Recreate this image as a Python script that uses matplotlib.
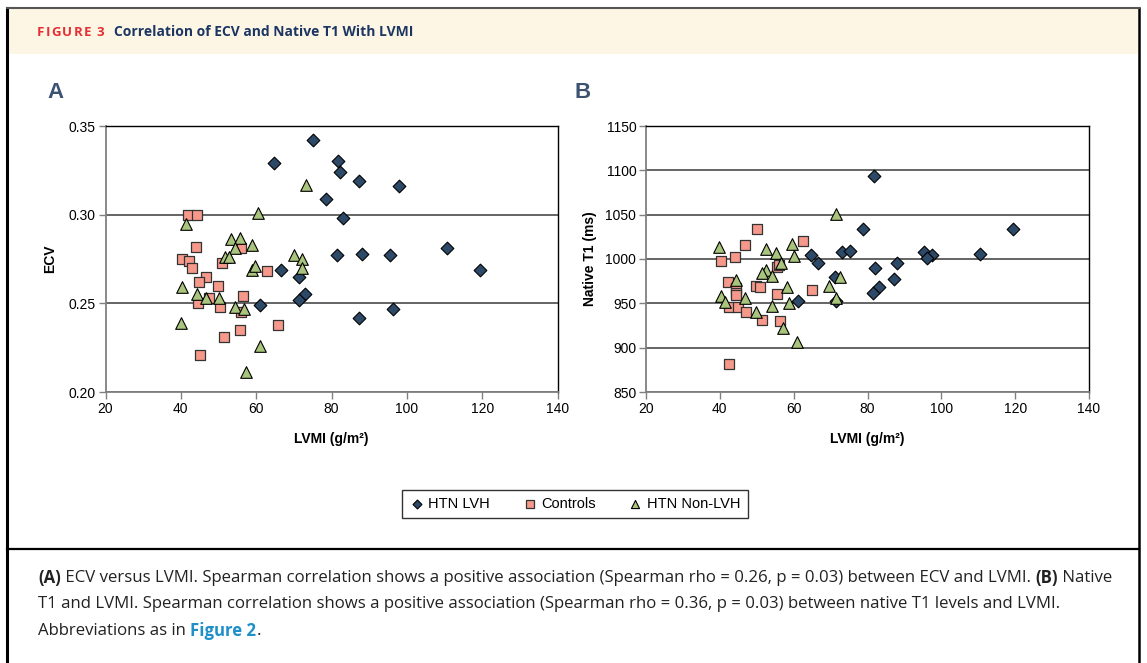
import matplotlib
matplotlib.use("Agg")
import matplotlib.pyplot as plt
from matplotlib.lines import Line2D
from matplotlib.patches import Rectangle

plt.rcParams['font.family'] = ['Liberation Sans', 'DejaVu Sans']

# panel A: ECV vs LVMI
a_lvh_x = [75.2, 64.7, 81.8, 82.2, 87.3, 97.8, 78.6, 83.1, 81.4, 88.2,
           95.4, 110.7, 119.5, 66.6, 71.3, 72.9, 71.3, 60.9, 96.2, 87.2]
a_lvh_y = [0.342, 0.329, 0.330, 0.324, 0.319, 0.316, 0.309, 0.298, 0.277, 0.278,
           0.277, 0.281, 0.269, 0.269, 0.265, 0.255, 0.252, 0.249, 0.247, 0.242]
a_ctl_x = [42.0, 44.3, 44.1, 40.2, 42.3, 42.9, 46.7, 44.7, 49.9, 50.9, 56.0,
           62.9, 47.4, 44.5, 50.5, 56.4, 56.1, 55.6, 51.4, 65.7, 45.0]
a_ctl_y = [0.300, 0.300, 0.282, 0.275, 0.274, 0.270, 0.265, 0.262, 0.260, 0.273, 0.281,
           0.268, 0.253, 0.250, 0.248, 0.254, 0.245, 0.235, 0.231, 0.238, 0.221]
a_non_x = [41.5, 60.4, 53.2, 55.6, 54.3, 59.0, 51.8, 52.7, 58.8, 59.6, 70.1, 72.1,
           72.1, 73.2, 40.4, 44.3, 46.8, 50.2, 54.3, 56.9, 40.0, 61.1, 57.3]
a_non_y = [0.295, 0.301, 0.286, 0.287, 0.281, 0.283, 0.276, 0.276, 0.269, 0.271, 0.277, 0.275,
           0.270, 0.317, 0.259, 0.255, 0.253, 0.253, 0.248, 0.247, 0.239, 0.226, 0.211]

# panel B: native T1 vs LVMI
b_lvh_x = [81.7, 78.8, 119.3, 64.7, 66.7, 73.0, 75.2, 95.3, 97.6, 96.0,
           110.4, 82.1, 88.1, 87.2, 71.1, 83.2, 81.6, 61.2, 71.5]
b_lvh_y = [1094, 1034, 1034, 1005, 996, 1008, 1009, 1008, 1005, 1001,
           1006, 990, 995, 978, 980, 968, 962, 953, 953]
b_ctl_x = [50.0, 46.7, 62.4, 40.2, 44.1, 55.5, 56.0, 42.2, 44.3, 44.3, 44.3,
           49.7, 51.0, 55.4, 65.0, 42.4, 44.9, 47.2, 51.4, 56.3, 42.5]
b_ctl_y = [1034, 1016, 1020, 998, 1002, 991, 993, 974, 967, 962, 959,
           970, 968, 961, 965, 946, 946, 940, 931, 930, 882]
b_non_x = [71.6, 39.9, 52.5, 59.5, 55.3, 60.0, 56.6, 52.5, 51.5, 54.1, 44.4, 58.3,
           72.6, 69.6, 71.5, 40.2, 41.5, 46.9, 54.1, 58.7, 49.7, 57.2, 60.8]
b_non_y = [1051, 1013, 1011, 1017, 1007, 1003, 996, 988, 984, 981, 976, 968,
           980, 970, 956, 958, 951, 956, 947, 950, 940, 922, 906]

groups = ["HTN LVH", "Controls", "HTN Non-LVH"]

W, H = 1147, 663
fig = plt.figure(figsize=(W / 100, H / 100), dpi=100)


def fx(px):
    return px / W


def fy(py):
    return 1 - py / H


# frame, header band, caption separator
fig.add_artist(Rectangle((fx(8), fy(54)), fx(1130), 45 / H, transform=fig.transFigure,
                         facecolor='#fdf6e4', edgecolor='none', zorder=0))
fig.add_artist(Line2D([fx(7), fx(7)], [fy(8), 0], transform=fig.transFigure, color='black', lw=2.2))
fig.add_artist(Line2D([fx(1139), fx(1139)], [fy(8), 0], transform=fig.transFigure, color='black', lw=1.8))
fig.add_artist(Line2D([fx(7), fx(1139)], [fy(8), fy(8)], transform=fig.transFigure, color='#555555', lw=1.5))
fig.add_artist(Line2D([fx(7), fx(1139)], [fy(549), fy(549)], transform=fig.transFigure, color='black', lw=1.6))

renderer = fig.canvas.get_renderer()


def seg_width(s, **kw):
    t = fig.text(0, 0, s + "|", **kw)
    t2 = fig.text(0, 0, "|", **kw)
    w = t.get_window_extent(renderer).width - t2.get_window_extent(renderer).width
    t.remove()
    t2.remove()
    return w


def rich_line(x, y, parts, tracking=0.0):
    for s, kw in parts:
        if tracking:
            for ch in s:
                fig.text(fx(x), fy(y), ch, va='center', ha='left', **kw)
                x += seg_width(ch, **kw) + tracking
        else:
            fig.text(fx(x), fy(y), s, va='center', ha='left', **kw)
            x += seg_width(s, **kw)
    return x


head_red = dict(fontsize=9.5, fontweight='bold', color='#e42f34', family='Open Sans')
head_nav = dict(fontsize=10, fontweight='bold', color='#1c3664', family='Open Sans')
x_end = rich_line(37, 32, [("FIGURE 3", head_red)], tracking=1.2)
rich_line(x_end + 9, 32, [("Correlation of ECV and Native T1 With LVMI", head_nav)])

cap = dict(fontsize=12.1, color='#222222', family='Open Sans')
cap_b = dict(cap, fontweight='bold')
cap_link = dict(cap_b, color='#1f8fc8')
rich_line(38, 578, [("(A)", cap_b),
                    (" ECV versus LVMI. Spearman correlation shows a positive association "
                     "(Spearman rho = 0.26, p = 0.03) between ECV and LVMI. ", cap),
                    ("(B)", cap_b), (" Native", cap)])
rich_line(38, 604, [("T1 and LVMI. Spearman correlation shows a positive association "
                     "(Spearman rho = 0.36, p = 0.03) between native T1 levels and LVMI.", cap)])
rich_line(38, 631, [("Abbreviations as in ", cap), ("Figure 2", cap_link), (".", cap)])

# panels
styles = [dict(marker='D', s=42, c='#2d4968', edgecolors='black', linewidths=0.8),
          dict(marker='s', s=62, c='#f6998a', edgecolors='#333333', linewidths=0.9),
          dict(marker='^', s=70, c='#a9c47c', edgecolors='black', linewidths=0.8)]

axA = fig.add_axes([fx(105.5), fy(392), fx(452), 266 / H])
axB = fig.add_axes([fx(646), fy(392), fx(443), 266 / H])

for ax, data in [(axA, [(a_lvh_x, a_lvh_y), (a_ctl_x, a_ctl_y), (a_non_x, a_non_y)]),
                 (axB, [(b_lvh_x, b_lvh_y), (b_ctl_x, b_ctl_y), (b_non_x, b_non_y)])]:
    for (xs, ys), st, name in zip(data, styles, groups):
        ax.scatter(xs, ys, label=name, zorder=3, **st)
    ax.set_xlim(20, 140)
    ax.set_xticks(range(20, 141, 20))
    ax.grid(axis='y', color='#3a3a3a', lw=1.1, zorder=1)
    ax.set_axisbelow(True)
    for side in ['top', 'right']:
        ax.spines[side].set_color('black')
        ax.spines[side].set_linewidth(1.0)
    for side in ['left', 'bottom']:
        ax.spines[side].set_color('#808080')
        ax.spines[side].set_linewidth(1.3)
    ax.tick_params(direction='out', length=5, width=1, color='#808080', labelsize=10, pad=2)
    ax.set_xlabel("LVMI (g/m²)", fontsize=10, fontweight='bold', labelpad=12)

axA.set_ylim(0.20, 0.35)
axA.set_yticks([0.20, 0.25, 0.30, 0.35])
axA.set_yticklabels(["0.20", "0.25", "0.30", "0.35"])
axA.set_ylabel("ECV", fontsize=10, fontweight='bold', labelpad=8)

axB.set_ylim(850, 1150)
axB.set_yticks(range(850, 1151, 50))
axB.set_ylabel("Native T1 (ms)", fontsize=10, fontweight='bold', labelpad=6)

fig.text(fx(56), fy(93), "A", fontsize=16, fontweight='bold', color='#3d5270', ha='center', va='center')
fig.text(fx(583), fy(93), "B", fontsize=16, fontweight='bold', color='#3d5270', ha='center', va='center')

handles, labels = axA.get_legend_handles_labels()
leg = fig.legend(handles, labels, loc='center', bbox_to_anchor=(fx(575), fy(504)), ncol=3,
                 fontsize=10.5, frameon=True, fancybox=False, edgecolor='black',
                 markerscale=0.7, handletextpad=0.3, columnspacing=2.2, handlelength=1.0,
                 borderpad=0.5, borderaxespad=0)
leg.get_frame().set_linewidth(1.0)

fig.savefig("out.png", dpi=100)
